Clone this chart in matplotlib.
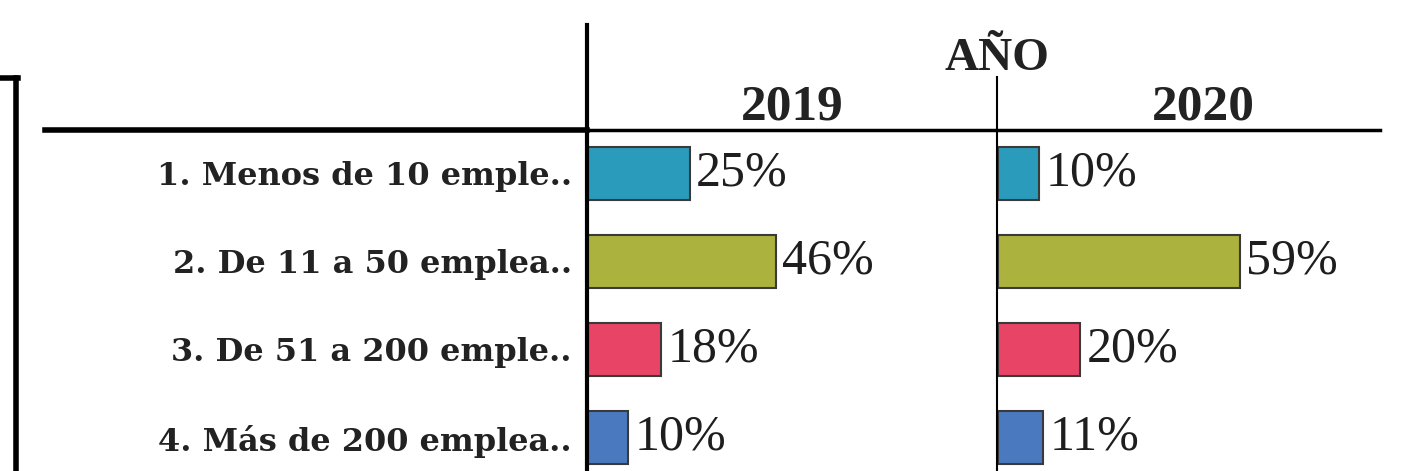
import matplotlib
matplotlib.use("Agg")
import matplotlib.pyplot as plt
from matplotlib.lines import Line2D

# data
categories = ["1. Menos de 10 emple..", "2. De 11 a 50 emplea..",
              "3. De 51 a 200 emple..", "4. Más de 200 emplea.."]
years = ["2019", "2020"]
values_2019 = [25, 46, 18, 10]
values_2020 = [10, 59, 20, 11]
colors = ["#2a9bba", "#abb23e", "#e84466", "#4a79bf"]

W, H = 1413, 471
fig = plt.figure(figsize=(W / 100, H / 100), dpi=100)
fig.patch.set_facecolor("white")


def fx(px):
    return px / W


def fy(py):
    return 1 - py / H


top, bottom = 132, 471
ax1 = fig.add_axes([fx(587), fy(bottom), fx(997 - 587), fy(top) - fy(bottom)])
ax2 = fig.add_axes([fx(998), fy(bottom), fx(W - 998), fy(top) - fy(bottom)])

px_per_pct = 4.1
for ax, vals, x0, year in [(ax1, values_2019, 587, years[0]),
                           (ax2, values_2020, 998, years[1])]:
    width_px = (997 - 587) if ax is ax1 else (W - 998)
    ax.set_xlim(0, width_px / px_per_pct)
    ax.set_ylim(3.38, -0.47)
    ax.barh(range(len(vals)), vals, height=0.61, color=colors,
            edgecolor="#3a3a3a", linewidth=1.5)
    for i, v in enumerate(vals):
        ax.text(v + 1.6, i, f"{v}%", ha="left", va="center",
                fontsize=36, family="Liberation Serif", color="#1e1e1e")
    for s in ax.spines.values():
        s.set_visible(False)
    ax.set_xticks([])
    ax.tick_params(left=False, length=0)
    ax.set_yticks([])
    # year header
    fig.text(fx(x0 + width_px / 2 if ax is ax1 else 1203), fy(120), year,
             ha="center", va="baseline", fontsize=37, fontweight="bold",
             family="Liberation Serif", color="#222222")

ax1.set_yticks(range(len(categories)))
ax1.set_yticklabels(categories, fontsize=23, fontweight="bold",
                    family="DejaVu Serif", color="#222222")
ax1.tick_params(axis="y", pad=11)
for lbl in ax1.get_yticklabels():
    lbl.set_y(lbl.get_position()[1])
    lbl.set_va("center_baseline")

fig.text(fx(997), fy(70), "AÑO", ha="center", va="baseline", fontsize=34,
         fontweight="bold", family="Liberation Serif", color="#222222")

# header and frame lines
lines = [
    ([45, 587], [130, 130], 4.0),
    ([587, 1380], [130, 130], 2.5),
    ([587, 587], [25, 471], 3.0),
    ([997, 997], [77, 471], 1.5),
    ([16, 16], [78, 471], 4.0),
    ([0, 18], [78, 78], 4.0),
]
for xs, ys, lw in lines:
    fig.add_artist(Line2D([fx(x) for x in xs], [fy(y) for y in ys],
                          color="black", linewidth=lw,
                          transform=fig.transFigure))

fig.savefig("out.png", dpi=100)
